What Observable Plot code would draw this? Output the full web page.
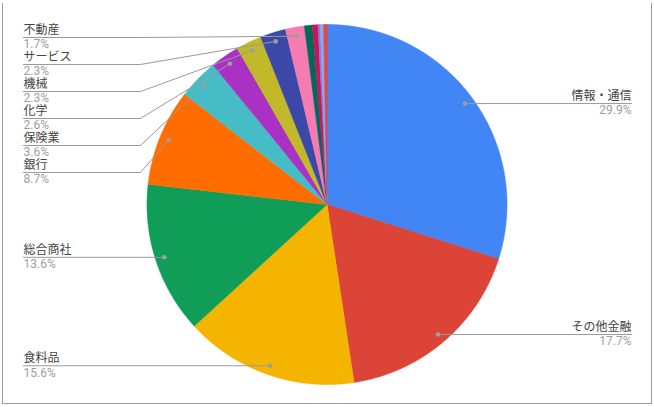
<!DOCTYPE html>
<html><head><meta charset="utf-8">
<script src="https://cdn.jsdelivr.net/npm/d3@7"></script>
<script src="https://cdn.jsdelivr.net/npm/@observablehq/plot@0.6"></script>
<style>
body{margin:0;background:#fff}
#wrap{position:relative;width:654px;height:407px}
#frame{position:absolute;left:2px;top:3px;width:648px;height:400px;border:1px solid #9e9e9e;border-top:none;pointer-events:none}
</style>
</head><body>
<div id="wrap"><div id="frame"></div></div>
<script>
// ---- data ----
const categories = ["情報・通信","その他金融","食料品","総合商社","銀行","保険業","化学","機械","サービス","不動産","その他A","その他B","その他C","その他D","その他E"];
const values     = [29.9, 17.7, 15.6, 13.6, 8.7, 3.6, 2.6, 2.3, 2.3, 1.7, 0.7, 0.5, 0.2, 0.3, 0.3];
const colors     = ["#4285F4","#DB4437","#F4B400","#0F9D58","#FF6D00","#46BDC6","#AB30C4","#C2B92A","#3B48A8","#F57CB0","#00695C","#C2185B","#9575CD","#7BAAF7","#E8453C"];

// ---- layout ----
const W = 654, H = 407, cx = 326.5, cy = 204, R = 180;
const dotR = 0.95 * R;
const leftX = 23, rightX = 631, bendX = 140, topLine = 37, gap = 27;

const rows = categories.map((name, i) => ({name, value: values[i]}));
const total = d3.sum(values);
const arcs = d3.pie().sort(null).value(d => d.value)(rows);

// wedge polygons
const wedgePts = [];
for (const a of arcs) {
  wedgePts.push({name: a.data.name, x: cx, y: cy});
  const n = Math.max(2, Math.ceil((a.endAngle - a.startAngle) / 0.004));
  for (let k = 0; k <= n; k++) {
    const t = a.startAngle + (a.endAngle - a.startAngle) * k / n;
    wedgePts.push({name: a.data.name, x: cx + R * Math.sin(t), y: cy - R * Math.cos(t)});
  }
}

// labels
const fmt = d3.format(".1f");
const labeled = arcs.filter(a => a.data.value / total >= 0.015).map(a => {
  const m = (a.startAngle + a.endAngle) / 2;
  return {
    name: a.data.name,
    pct: fmt(a.data.value / total * 100) + "%",
    mid: m,
    dx: cx + dotR * Math.sin(m),
    dy: cy - dotR * Math.cos(m)
  };
});
const left = labeled.filter(d => d.mid > Math.PI).sort((a, b) => a.dy - b.dy);
const right = labeled.filter(d => d.mid <= Math.PI).sort((a, b) => a.dy - b.dy);
let prev = topLine - gap;
for (const d of left) { d.ly = Math.max(d.dy, prev + gap); prev = d.ly; d.tx = leftX; }
prev = topLine - gap;
for (const d of right) { d.ly = Math.max(d.dy, prev + gap); prev = d.ly; d.tx = rightX; }

const leaders = [];
for (const d of left) {
  leaders.push({name: d.name, x: leftX, y: d.ly});
  if (Math.abs(d.ly - d.dy) > 0.5) leaders.push({name: d.name, x: bendX, y: d.ly});
  leaders.push({name: d.name, x: d.dx, y: d.dy});
}
for (const d of right) {
  leaders.push({name: d.name, x: d.dx, y: d.dy});
  if (Math.abs(d.ly - d.dy) > 0.5) leaders.push({name: d.name, x: W - bendX, y: d.ly});
  leaders.push({name: d.name, x: rightX, y: d.ly});
}

const font = "Roboto, 'Noto Sans CJK JP', sans-serif";
const chart = Plot.plot({
  width: W, height: H, margin: 0,
  style: {fontFamily: font, background: "transparent"},
  x: {domain: [0, W], range: [0, W], axis: null},
  y: {domain: [0, H], range: [0, H], axis: null},
  color: {domain: categories, range: colors},
  marks: [
    Plot.line(wedgePts, {x: "x", y: "y", z: "name", fill: "name", stroke: "name", strokeWidth: 0.6, curve: "linear-closed"}),
    Plot.line(leaders, {x: "x", y: "y", z: "name", stroke: "#9a9a9a", strokeWidth: 1}),
    Plot.dot(labeled, {x: "dx", y: "dy", r: 2.3, fill: "#9e9e9e", stroke: "none"}),
    Plot.text(left, {x: "tx", y: "ly", text: "name", textAnchor: "start", dy: -7.5, fontSize: 12, fill: "#444"}),
    Plot.text(left, {x: "tx", y: "ly", text: "pct", textAnchor: "start", dy: 7, fontSize: 12, fill: "#9e9e9e"}),
    Plot.text(right, {x: "tx", y: "ly", text: "name", textAnchor: "end", dy: -7.5, fontSize: 12, fill: "#444"}),
    Plot.text(right, {x: "tx", y: "ly", text: "pct", textAnchor: "end", dy: 7, fontSize: 12, fill: "#9e9e9e"})
  ]
});
chart.style.position = "absolute";
chart.style.left = "0";
chart.style.top = "0";
document.getElementById("wrap").prepend(chart);
</script>
</body></html>
